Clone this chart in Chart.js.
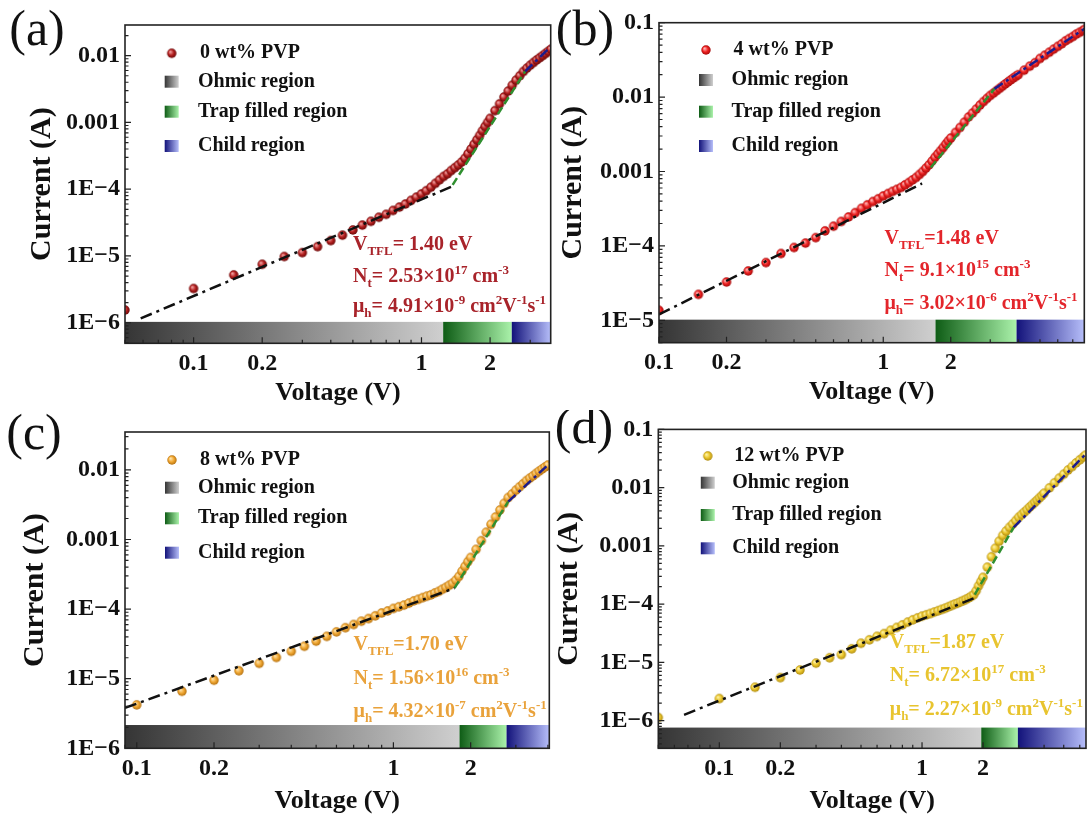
<!DOCTYPE html>
<html>
<head>
<meta charset="utf-8">
<script src="https://cdn.jsdelivr.net/npm/chart.js@4.4.1/dist/chart.umd.min.js"></script>
<style>
  html, body { margin: 0; padding: 0; background: #fff; }
  #page { position: relative; width: 1091px; height: 821px; overflow: hidden; background: #fff; }
  #page canvas { position: absolute; }
</style>
</head>
<body>
<div id="page">
  <canvas id="cA"></canvas>
  <canvas id="cB"></canvas>
  <canvas id="cC"></canvas>
  <canvas id="cD"></canvas>
</div>
<script>
// ---- data ----
const voltA = [0.05,0.1,0.15,0.2,0.25,0.3,0.35,0.4,0.45,0.5,0.55,0.6,0.65,0.7,0.75,0.8,0.85,0.9,0.95,1.0,
  1.05,1.1,1.15,1.2,1.25,1.3,1.35,1.4,1.45,1.5,1.55,1.6,1.65,1.7,1.75,1.8,1.85,1.9,1.95,2.0,
  2.1,2.2,2.3,2.4,2.5,2.6,2.7,2.8,2.9,3.0,3.1,3.2,3.3,3.4,3.5,3.6,3.7];
const currA = [1.55e-6,3.25e-6,5.2e-6,7.5e-6,9.8e-6,1.12e-5,1.38e-5,1.7e-5,2.05e-5,2.45e-5,
  2.9e-5,3.3e-5,3.8e-5,4.2e-5,4.8e-5,5.4e-5,6.0e-5,6.8e-5,7.6e-5,8.5e-5,
  9.5e-5,1.07e-4,1.22e-4,1.38e-4,1.55e-4,1.7e-4,1.9e-4,2.1e-4,2.3e-4,2.55e-4,
  2.9e-4,3.4e-4,4.0e-4,4.7e-4,5.5e-4,6.4e-4,7.5e-4,8.7e-4,1.0e-3,1.15e-3,
  1.5e-3,1.9e-3,2.4e-3,2.95e-3,3.6e-3,4.3e-3,5.0e-3,5.8e-3,6.5e-3,7.2e-3,
  7.9e-3,8.6e-3,9.3e-3,1.0e-2,1.08e-2,1.16e-2,1.25e-2];

const voltB = [0.1,0.15,0.2,0.25,0.3,0.35,0.4,0.45,0.5,0.55,0.6,0.65,0.7,0.75,0.8,0.85,0.9,0.95,1.0,
  1.05,1.1,1.15,1.2,1.25,1.3,1.35,1.4,1.45,1.5,1.55,1.6,1.65,1.7,1.75,1.8,1.85,1.9,1.95,2.0,
  2.1,2.2,2.3,2.4,2.5,2.6,2.7,2.8,2.9,3.0,3.1,3.2,3.3,3.4,3.5,3.6,3.7,3.8,3.9,4.0,
  4.25,4.5,4.75,5.0,5.25,5.5,5.75,6.0,6.25,6.5,6.75,7.0,7.25,7.5,7.75,7.9];
const currB = [1.36e-5,2.23e-5,3.27e-5,4.6e-5,5.96e-5,7.9e-5,9.5e-5,1.09e-4,1.29e-4,1.59e-4,
  1.84e-4,2.13e-4,2.45e-4,2.8e-4,3.2e-4,3.56e-4,3.95e-4,4.3e-4,4.7e-4,
  5.05e-4,5.4e-4,5.75e-4,6.1e-4,6.6e-4,7.1e-4,7.7e-4,8.3e-4,9.1e-4,1.0e-3,
  1.11e-3,1.23e-3,1.38e-3,1.55e-3,1.72e-3,1.9e-3,2.1e-3,2.34e-3,2.58e-3,2.82e-3,
  3.35e-3,3.9e-3,4.6e-3,5.4e-3,6.1e-3,6.9e-3,7.8e-3,8.7e-3,9.6e-3,1.05e-2,
  1.13e-2,1.22e-2,1.31e-2,1.4e-2,1.5e-2,1.6e-2,1.7e-2,1.8e-2,1.9e-2,2.0e-2,
  2.3e-2,2.6e-2,2.9e-2,3.3e-2,3.65e-2,4.0e-2,4.4e-2,4.8e-2,5.2e-2,5.7e-2,
  6.1e-2,6.5e-2,7.0e-2,7.4e-2,7.8e-2,8.1e-2];

const voltC = [0.1,0.15,0.2,0.25,0.3,0.35,0.4,0.45,0.5,0.55,0.6,0.65,0.7,0.75,0.8,0.85,0.9,0.95,1.0,
  1.05,1.1,1.15,1.2,1.25,1.3,1.35,1.4,1.45,1.5,1.55,1.6,1.65,1.7,1.75,1.8,1.85,1.9,1.95,2.0,
  2.1,2.2,2.3,2.4,2.5,2.6,2.7,2.8,2.9,3.0,3.1,3.2,3.3,3.4,3.5,3.6,3.7,3.8,3.9,4.0];
const currC = [4.2e-6,6.6e-6,9.5e-6,1.3e-5,1.66e-5,2.02e-5,2.47e-5,2.92e-5,3.46e-5,4.05e-5,
  4.7e-5,5.4e-5,6.0e-5,6.7e-5,7.3e-5,8.0e-5,8.8e-5,9.4e-5,1.02e-4,
  1.08e-4,1.14e-4,1.22e-4,1.31e-4,1.38e-4,1.46e-4,1.53e-4,1.6e-4,1.7e-4,1.79e-4,
  1.92e-4,2.05e-4,2.2e-4,2.35e-4,2.6e-4,2.95e-4,3.5e-4,4.1e-4,4.8e-4,5.5e-4,
  7.2e-4,9.6e-4,1.27e-3,1.65e-3,2.1e-3,2.65e-3,3.3e-3,4.0e-3,4.5e-3,5.1e-3,
  5.7e-3,6.3e-3,7.0e-3,7.6e-3,8.2e-3,8.9e-3,9.6e-3,1.03e-2,1.1e-2,1.17e-2];

const voltD = [0.05,0.1,0.15,0.2,0.25,0.3,0.35,0.4,0.45,0.5,0.55,0.6,0.65,0.7,0.75,0.8,0.85,0.9,0.95,1.0,
  1.05,1.1,1.15,1.2,1.25,1.3,1.35,1.4,1.45,1.5,1.55,1.6,1.65,1.7,1.75,1.8,1.85,1.9,1.95,2.0,
  2.1,2.2,2.3,2.4,2.5,2.6,2.7,2.8,2.9,3.0,3.1,3.2,3.3,3.4,3.5,3.6,3.7,3.8,3.9,4.0,
  4.25,4.5,4.75,5.0,5.25,5.5,5.75,6.0,6.25,6.4];
const currD = [1.13e-6,2.39e-6,3.74e-6,5.47e-6,7.4e-6,9.7e-6,1.2e-5,1.36e-5,1.71e-5,2.13e-5,
  2.44e-5,2.79e-5,3.11e-5,3.56e-5,3.98e-5,4.4e-5,4.9e-5,5.37e-5,5.8e-5,6.2e-5,
  6.55e-5,6.9e-5,7.3e-5,7.7e-5,8.1e-5,8.5e-5,9.0e-5,9.5e-5,1.0e-4,1.04e-4,
  1.1e-4,1.15e-4,1.21e-4,1.28e-4,1.36e-4,1.46e-4,1.7e-4,2.06e-4,2.45e-4,2.88e-4,
  4.3e-4,6.5e-4,9.1e-4,1.2e-3,1.51e-3,1.8e-3,2.08e-3,2.37e-3,2.72e-3,3.1e-3,
  3.45e-3,3.8e-3,4.2e-3,4.65e-3,5.1e-3,5.6e-3,6.1e-3,6.7e-3,7.3e-3,8.0e-3,
  9.9e-3,1.21e-2,1.45e-2,1.7e-2,2.0e-2,2.3e-2,2.65e-2,3.0e-2,3.35e-2,3.6e-2];

// fitted lines: [ohmic, trap filled, child], two end points each
const fitVoltA = [[0.0586, 1.38], [1.37, 2.85], [2.85, 3.7]];
const fitCurrA = [[1.16e-6, 1.12e-4], [1.16e-4, 5.8e-3], [5.8e-3, 1.38e-2]];
const fitVoltB = [[0.1, 1.49], [1.63, 3.13], [3.13, 7.9]];
const fitCurrB = [[1.2e-5, 6.9e-4], [1.13e-3, 1.29e-2], [1.29e-2, 8.3e-2]];
const fitVoltC = [[0.09, 1.73], [1.73, 2.8], [2.8, 4.14]];
const fitCurrC = [[3.8e-6, 2.0e-4], [2.0e-4, 3.5e-3], [3.5e-3, 1.32e-2]];
const fitVoltD = [[0.067, 1.82], [1.82, 2.83], [2.83, 6.44]];
const fitCurrD = [[1.26e-6, 1.28e-4], [1.46e-4, 2.07e-3], [2.07e-3, 3.8e-2]];

// region boundaries along voltage (ohmic | trap filled | child) and top of the band (A)
const regionA = [0.05, 1.245, 2.49, 3.69];
const regionB = [0.1, 1.71, 3.93, 7.88];
const regionC = [0.09, 1.81, 2.76, 4.05];
const regionD = [0.05, 1.96, 2.97, 6.44];
const bandTop = [1.03e-6, 1.02e-5, 2.16e-6, 7.6e-7];

// axis ranges
const xRangeA = [0.05, 3.69], yRangeA = [4.92e-7, 2.88e-2];
const xRangeB = [0.1, 7.88],  yRangeB = [5.0e-6, 0.1];
const xRangeC = [0.09, 4.05], yRangeC = [1e-6, 3.5e-2];
const xRangeD = [0.05, 6.44], yRangeD = [3.35e-7, 0.1];

// tick labels
const xTickValues = [0.1, 0.2, 1, 2];
const xTickLabels = ['0.1', '0.2', '1', '2'];
const yTickValues = [1e-6, 1e-5, 1e-4, 1e-3, 1e-2, 1e-1];
const yTickLabels = ['1E\u22126', '1E\u22125', '1E\u22124', '0.001', '0.01', '0.1'];

// texts
const seriesNames = ['0 wt% PVP', '4 wt% PVP', '8 wt% PVP', '12 wt% PVP'];
const regionNames = ['Ohmic region', 'Trap filled region', 'Child region'];
const panelTags = ['(a)', '(b)', '(c)', '(d)'];
const vtfl = ['= 1.40 eV', '=1.48 eV', '=1.70 eV', '=1.87 eV'];
const ntMant = ['= 2.53\u00d710', '= 9.1\u00d710', '= 1.56\u00d710', '= 6.72\u00d710'];
const ntExp = ['17', '15', '16', '17'];
const muMant = ['= 4.91\u00d710', '= 3.02\u00d710', '= 4.32\u00d710', '= 2.27\u00d710'];
const muExp = ['-9', '-6', '-7', '-9'];

// ---- styling / layout ----
const SERIF = '"Liberation Serif", "Times New Roman", serif';
const INK = '#111111';
const markerColors = [
  ['#f3a3a3', '#b31d1d', '#6a0909'],
  ['#ffb4b4', '#ee2020', '#a50d0d'],
  ['#ffe4ac', '#f0a630', '#b57212'],
  ['#fff3a6', '#eac52a', '#b08c10']
];
const noteColors = ['#a8232a', '#e3252b', '#e9a23b', '#e8c42f'];
const bandColors = [['#353535', '#cfcfcf'], ['#0e5c15', '#aaf2aa'], ['#12127a', '#b6befa']];
const layout = [
  { id: 'cA', box: [0, 0, 556, 410], area: [125, 25, 550.7, 343.3], yPad: 24, xPad: 1.4,
    legend: { mx: 171.7, tx: 200, ys: [53.3, 81.7, 111.7, 146] }, note: { x: 353, ys: [243, 275, 305] }, tag: [37, 33] },
  { id: 'cB', box: [545, 0, 546, 410], area: [114, 22.7, 539.3, 342.7], yPad: 10.6, xPad: 2.4,
    legend: { mx: 161, tx: 188.6, ys: [50, 80, 111.7, 146] }, note: { x: 339.5, ys: [236.6, 268.5, 302] }, tag: [40, 33] },
  { id: 'cC', box: [0, 410, 556, 411], area: [125, 22, 549.3, 338.3], yPad: 17, xPad: 3.7,
    legend: { mx: 172, tx: 200, ys: [50, 77.7, 108.3, 142.7] }, note: { x: 353.6, ys: [233, 266.7, 300] }, tag: [34, 27] },
  { id: 'cD', box: [545, 410, 546, 411], area: [113.3, 18, 541.7, 338.3], yPad: 6, xPad: 3.7,
    legend: { mx: 162.8, tx: 189.3, ys: [46, 72.7, 105, 138.3] }, note: { x: 344.8, ys: [230.8, 264, 297.7] }, tag: [39, 21] }
];

function sphere(cols) {
  const r = 4.7, s = 12;
  const c = document.createElement('canvas');
  c.width = s; c.height = s;
  const g = c.getContext('2d');
  const grad = g.createRadialGradient(s / 2 - 1.6, s / 2 - 1.6, 0.4, s / 2, s / 2, r);
  grad.addColorStop(0, cols[0]);
  grad.addColorStop(0.55, cols[1]);
  grad.addColorStop(1, cols[2]);
  g.fillStyle = grad;
  g.beginPath();
  g.arc(s / 2, s / 2, r, 0, Math.PI * 2);
  g.fill();
  return c;
}

function pick(v, vals, labels) {
  for (let i = 0; i < vals.length; i++) {
    if (Math.abs(v / vals[i] - 1) < 1e-6) return labels[i];
  }
  return '';
}

function inRange(vals, lo, hi) {
  return vals.filter(v => v >= lo * 0.9999 && v <= hi * 1.0001).map(v => ({ value: v }));
}

function richText(ctx, x, y, parts) {
  // parts: [text, mode]; mode 0 normal, 1 subscript, 2 superscript
  for (const [t, m] of parts) {
    ctx.font = m ? 'bold 13px ' + SERIF : 'bold 20px ' + SERIF;
    const dy = m === 1 ? 5 : m === 2 ? -8 : 0;
    ctx.fillText(t, x, y + dy);
    x += ctx.measureText(t).width;
  }
}

function decor(k, dot) {
  const L = layout[k];
  const region = [regionA, regionB, regionC, regionD][k];
  return {
    id: 'decor' + k,
    beforeDatasetsDraw(chart) {
      const { ctx, chartArea: a } = chart;
      const xs = chart.scales.x, ys = chart.scales.y;
      const yt = ys.getPixelForValue(bandTop[k]);
      ctx.save();
      for (let i = 0; i < 3; i++) {
        const x0 = xs.getPixelForValue(region[i]);
        const x1 = xs.getPixelForValue(region[i + 1]);
        const gr = ctx.createLinearGradient(x0, 0, x1, 0);
        gr.addColorStop(0, bandColors[i][0]);
        gr.addColorStop(1, bandColors[i][1]);
        ctx.fillStyle = gr;
        ctx.fillRect(x0, yt, x1 - x0, a.bottom - yt);
      }
      ctx.restore();
    },
    afterDatasetsDraw(chart) {
      const { ctx, chartArea: a } = chart;
      const xs = chart.scales.x, ys = chart.scales.y;
      ctx.save();
      // ticks pointing inward on bottom and left
      ctx.strokeStyle = '#222';
      ctx.lineWidth = 1.2;
      const each = (scale, fn) => {
        const lo = Math.floor(Math.log10(scale.min)), hi = Math.ceil(Math.log10(scale.max));
        for (let e = lo; e <= hi; e++) {
          for (let m = 1; m <= 9; m++) {
            const v = m * Math.pow(10, e);
            if (v < scale.min * 0.9999 || v > scale.max * 1.0001) continue;
            const major = scale.ticks.some(t => Math.abs(t.value / v - 1) < 1e-6);
            fn(scale.getPixelForValue(v), major ? 6 : 3.5);
          }
        }
      };
      ctx.beginPath();
      each(xs, (px, len) => { ctx.moveTo(px, a.bottom); ctx.lineTo(px, a.bottom - len); });
      each(ys, (py, len) => { ctx.moveTo(a.left, py); ctx.lineTo(a.left + len, py); });
      ctx.stroke();
      ctx.lineWidth = 1.6;
      ctx.strokeRect(a.left, a.top, a.right - a.left, a.bottom - a.top);

      // legend
      const lg = L.legend;
      ctx.drawImage(dot, lg.mx - dot.width / 2, lg.ys[0] - dot.height / 2);
      for (let i = 0; i < 3; i++) {
        const gr = ctx.createLinearGradient(lg.mx - 7, 0, lg.mx + 7, 0);
        gr.addColorStop(0, bandColors[i][0]);
        gr.addColorStop(1, bandColors[i][1]);
        ctx.fillStyle = gr;
        ctx.fillRect(lg.mx - 7, lg.ys[i + 1] - 6, 14, 12);
      }
      ctx.fillStyle = INK;
      ctx.font = 'bold 20px ' + SERIF;
      ctx.textBaseline = 'middle';
      ctx.textAlign = 'left';
      ctx.fillText(seriesNames[k], lg.tx, lg.ys[0]);
      for (let i = 0; i < 3; i++) ctx.fillText(regionNames[i], lg.tx - 2, lg.ys[i + 1]);

      // parameters
      ctx.textBaseline = 'alphabetic';
      ctx.fillStyle = noteColors[k];
      const nx = L.note.x, ny = L.note.ys;
      richText(ctx, nx, ny[0] + 7, [['V', 0], ['TFL', 1], [vtfl[k], 0]]);
      richText(ctx, nx, ny[1] + 7, [['N', 0], ['t', 1], [ntMant[k], 0], [ntExp[k], 2], [' cm', 0], ['-3', 2]]);
      richText(ctx, nx, ny[2] + 7, [['\u03bc', 0], ['h', 1], [muMant[k], 0], [muExp[k], 2], [' cm', 0], ['2', 2],
        ['V', 0], ['-1', 2], ['s', 0], ['-1', 2]]);

      // panel tag
      ctx.fillStyle = INK;
      ctx.font = '50px ' + SERIF;
      ctx.textAlign = 'center';
      ctx.fillText(panelTags[k], L.tag[0], L.tag[1] + 12);
      ctx.restore();
    }
  };
}

function buildPanel(k) {
  const L = layout[k];
  const volt = [voltA, voltB, voltC, voltD][k];
  const curr = [currA, currB, currC, currD][k];
  const fitV = [fitVoltA, fitVoltB, fitVoltC, fitVoltD][k];
  const fitI = [fitCurrA, fitCurrB, fitCurrC, fitCurrD][k];
  const xr = [xRangeA, xRangeB, xRangeC, xRangeD][k];
  const yr = [yRangeA, yRangeB, yRangeC, yRangeD][k];
  const cv = document.getElementById(L.id);
  const [bx, by, bw, bh] = L.box;
  const [al, at, ar, ab] = L.area;
  cv.width = bw; cv.height = bh;
  cv.style.left = bx + 'px'; cv.style.top = by + 'px';
  cv.style.width = bw + 'px'; cv.style.height = bh + 'px';
  const dot = sphere(markerColors[k]);

  const fitSet = (i, color, dash) => ({
    data: fitV[i].map((v, j) => ({ x: v, y: fitI[i][j] })),
    showLine: true, borderColor: color, borderWidth: 2.5, borderDash: dash,
    pointRadius: 0, clip: 0, order: 1
  });
  const tickFont = { family: SERIF, size: 24, weight: 'bold' };

  new Chart(cv, {
    type: 'scatter',
    data: {
      datasets: [
        { data: volt.map((v, j) => ({ x: v, y: curr[j] })), pointStyle: dot, pointRadius: 4, clip: 0, order: 2 },
        fitSet(0, '#111111', [12, 5, 3, 5]),
        fitSet(1, '#2f8f2f', [8, 4]),
        fitSet(2, '#1c1c8c', [10, 4, 3, 4])
      ]
    },
    options: {
      responsive: false,
      animation: false,
      events: [],
      layout: { padding: { left: 0, top: at, right: bw - ar, bottom: 0 } },
      plugins: { legend: { display: false }, tooltip: { enabled: false } },
      scales: {
        x: {
          type: 'logarithmic', position: 'bottom', min: xr[0], max: xr[1],
          grid: { display: false, drawTicks: false }, border: { display: false },
          afterBuildTicks: s => { s.ticks = inRange(xTickValues, xr[0], xr[1]); },
          afterFit: s => { s.height = bh - ab; },
          ticks: { autoSkip: false, maxRotation: 0, minRotation: 0, padding: 6, color: INK, font: tickFont,
            callback: v => pick(v, xTickValues, xTickLabels) },
          title: { display: true, text: 'Voltage (V)', color: INK,
            font: { family: SERIF, size: 26, weight: 'bold' }, padding: { top: 0, bottom: L.xPad } }
        },
        y: {
          type: 'logarithmic', position: 'left', min: yr[0], max: yr[1],
          grid: { display: false, drawTicks: false }, border: { display: false },
          afterBuildTicks: s => { s.ticks = inRange(yTickValues, yr[0], yr[1]); },
          afterFit: s => { s.width = al; },
          ticks: { autoSkip: false, padding: 5, color: INK, font: tickFont,
            callback: v => pick(v, yTickValues, yTickLabels) },
          title: { display: true, text: 'Current (A)', color: INK,
            font: { family: SERIF, size: 30, weight: 'bold' }, padding: { top: L.yPad, bottom: 0 } }
        }
      }
    },
    plugins: [decor(k, dot)]
  });
}

for (let k = 0; k < 4; k++) buildPanel(k);
</script>
</body>
</html>
